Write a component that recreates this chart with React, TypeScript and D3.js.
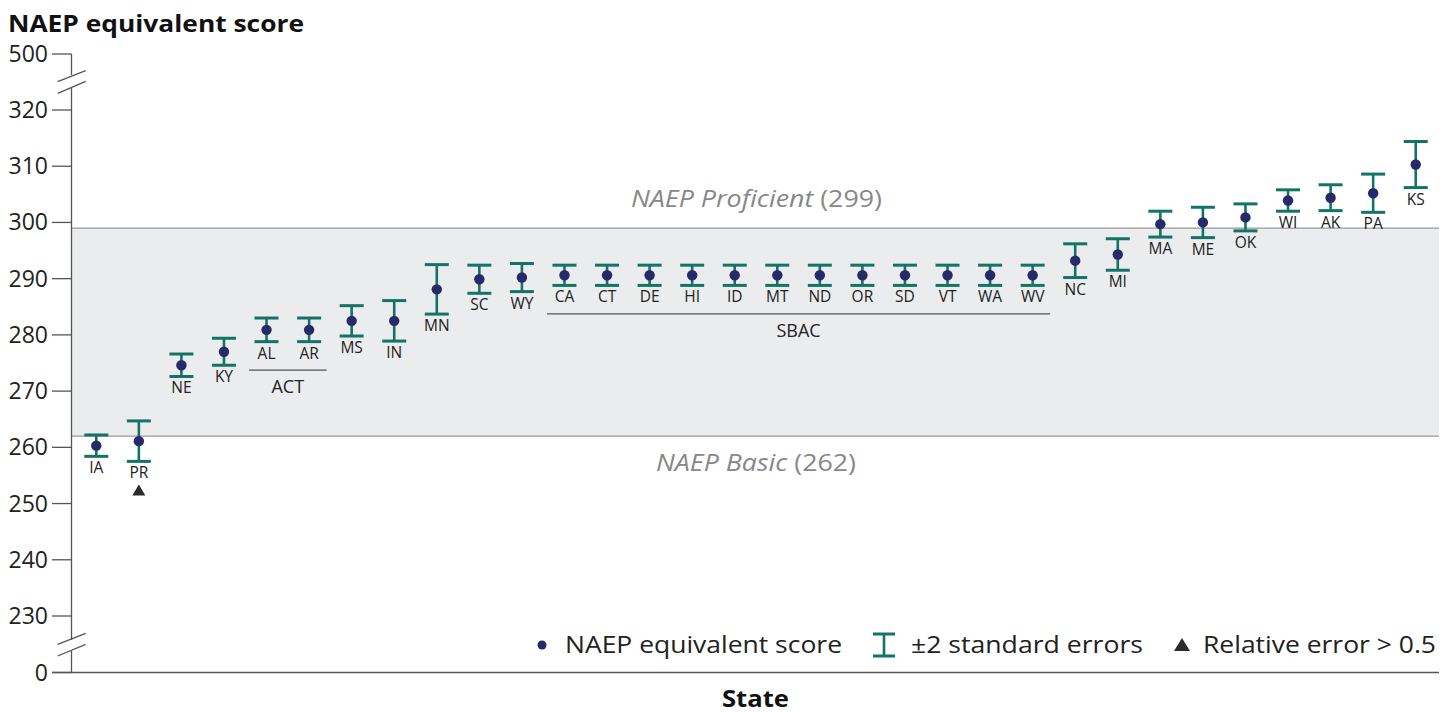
import React from "react";
import * as d3 from "d3";

const states = ["IA","PR","NE","KY","AL","AR","MS","IN","MN","SC","WY","CA","CT","DE","HI","ID","MT","ND","OR","SD","VT","WA","WV","NC","MI","MA","ME","OK","WI","AK","PA","KS"];
const scores = [260.3,261.1,274.6,277.0,280.9,280.9,282.5,282.5,288.1,289.9,290.2,290.6,290.6,290.6,290.6,290.6,290.6,290.6,290.6,290.6,290.6,290.6,290.6,293.2,294.3,299.7,300.0,300.9,303.9,304.4,305.2,310.3];
const twoSE = [1.9,3.6,2.0,2.4,2.1,2.1,2.7,3.6,4.4,2.5,2.5,1.8,1.8,1.8,1.8,1.8,1.8,1.8,1.8,1.8,1.8,1.8,1.8,3.0,2.8,2.3,2.7,2.4,1.9,2.3,3.4,4.1];
const flagged = ["PR"];
const groupLabels = ["ACT", "SBAC"];
const groupFrom = ["AL", "CA"];
const groupTo = ["AR", "WV"];
const yTicks = [0, 230, 240, 250, 260, 270, 280, 290, 300, 310, 320, 500];
const proficient = 299;
const basic = 262;

const FONT = "'Open Sans', 'Noto Sans', sans-serif";
const DOT = "#262a68";
const TEAL = "#137366";
const TEXT = "#222";

export default function App() {
  const W = 1454, H = 713;
  const axisX = 71.5;
  const plotRight = 1439;
  const x = d3.scaleBand<string>().domain(states).range([75, 1437]);
  const cx = (s: string) => (x(s) as number) + x.bandwidth() / 2;
  const y = d3.scaleLinear().domain([0, 230, 320, 500]).range([672.5, 616, 110, 54]);
  const capW = 24;

  const bottoms = states.map((s, i) => y(scores[i] - twoSE[i]));

  return (
    <svg width={W} height={H} style={{ position: "absolute", left: 0, top: 0, fontFamily: FONT }}>
      <rect x={0} y={0} width={W} height={H} fill="#fff" />
      {/* performance band */}
      <rect x={axisX} y={y(proficient)} width={plotRight - axisX} height={y(basic) - y(proficient)} fill="#ebeced" />
      <line x1={axisX} x2={plotRight} y1={y(proficient)} y2={y(proficient)} stroke="#999" strokeWidth={1.3} />
      <line x1={axisX} x2={plotRight} y1={y(basic)} y2={y(basic)} stroke="#999" strokeWidth={1.3} />
      <text x={631} y={y(proficient) - 21} fontSize={23} fill="#888" textLength={251} lengthAdjust="spacingAndGlyphs">
        <tspan fontStyle="italic">NAEP Proficient</tspan> (299)
      </text>
      <text x={656} y={y(basic) + 35} fontSize={23} fill="#888" textLength={200} lengthAdjust="spacingAndGlyphs">
        <tspan fontStyle="italic">NAEP Basic</tspan> (262)
      </text>

      {/* title */}
      <text x={8} y={31.5} fontSize={24} fontWeight="bold" fill="#111" textLength={296} lengthAdjust="spacingAndGlyphs">NAEP equivalent score</text>

      {/* y axis with breaks */}
      <line x1={axisX} x2={axisX} y1={y(500)} y2={75} stroke="#555" strokeWidth={1.3} />
      <line x1={axisX} x2={axisX} y1={87} y2={640} stroke="#555" strokeWidth={1.3} />
      <line x1={axisX} x2={axisX} y1={651} y2={y(0)} stroke="#555" strokeWidth={1.3} />
      <line x1={57.7} y1={81.7} x2={85.7} y2={70.7} stroke="#555" strokeWidth={1.3} />
      <line x1={57.7} y1={93.3} x2={85.7} y2={81.3} stroke="#555" strokeWidth={1.3} />
      <line x1={57.7} y1={644.3} x2={85.7} y2={633.3} stroke="#555" strokeWidth={1.3} />
      <line x1={57.7} y1={656} x2={85.7} y2={644.3} stroke="#555" strokeWidth={1.3} />
      {yTicks.map((t) => (
        <g key={t}>
          <line x1={52} x2={axisX} y1={y(t)} y2={y(t)} stroke="#555" strokeWidth={1.3} />
          <text x={48} y={y(t)} dy="0.35em" textAnchor="end" fontSize={23} fill="#222">{t}</text>
        </g>
      ))}

      {/* x axis */}
      <line x1={52} x2={plotRight} y1={y(0)} y2={y(0)} stroke="#555" strokeWidth={1.3} />
      <text x={722} y={707} fontSize={23} fontWeight="bold" fill="#111" textLength={67} lengthAdjust="spacingAndGlyphs">State</text>

      {/* error bars, dots, labels */}
      {states.map((s, i) => {
        const c = cx(s);
        const top = y(scores[i] + twoSE[i]);
        const bot = y(scores[i] - twoSE[i]);
        return (
          <g key={s}>
            <line x1={c} x2={c} y1={top} y2={bot} stroke={TEAL} strokeWidth={2.6} />
            <line x1={c - capW / 2} x2={c + capW / 2} y1={top} y2={top} stroke={TEAL} strokeWidth={3} />
            <line x1={c - capW / 2} x2={c + capW / 2} y1={bot} y2={bot} stroke={TEAL} strokeWidth={3} />
            <circle cx={c} cy={y(scores[i])} r={5.2} fill={DOT} />
            <text x={c} y={bot + 17} textAnchor="middle" fontSize={15.5} fill={TEXT}>{s}</text>
            {flagged.includes(s) && (
              <path d={`M${c - 6.5},${bot + 34} L${c + 6.5},${bot + 34} L${c},${bot + 23} Z`} fill="#2b2b2b" />
            )}
          </g>
        );
      })}

      {/* groups */}
      {groupLabels.map((g, gi) => {
        const i0 = states.indexOf(groupFrom[gi]);
        const i1 = states.indexOf(groupTo[gi]);
        const ly = (d3.max(bottoms.slice(i0, i1 + 1)) as number) + 28.5;
        const x0 = cx(groupFrom[gi]) - 17.5;
        const x1 = cx(groupTo[gi]) + 17.5;
        return (
          <g key={g}>
            <line x1={x0} x2={x1} y1={ly} y2={ly} stroke="#555" strokeWidth={1.3} />
            <text x={(x0 + x1) / 2} y={ly + 23} textAnchor="middle" fontSize={18} fill={TEXT}>{g}</text>
          </g>
        );
      })}

      {/* legend */}
      <g>
        <circle cx={542} cy={645} r={4.5} fill={DOT} />
        <text x={565} y={645} dy="0.35em" fontSize={24} fill={TEXT} textLength={277} lengthAdjust="spacingAndGlyphs">NAEP equivalent score</text>
        <line x1={884} x2={884} y1={634} y2={656} stroke={TEAL} strokeWidth={2.6} />
        <line x1={873} x2={895} y1={634} y2={634} stroke={TEAL} strokeWidth={3} />
        <line x1={873} x2={895} y1={656} y2={656} stroke={TEAL} strokeWidth={3} />
        <text x={911} y={645} dy="0.35em" fontSize={24} fill={TEXT} textLength={232} lengthAdjust="spacingAndGlyphs">±2 standard errors</text>
        <path d="M1174,651 L1190,651 L1182,638 Z" fill="#2b2b2b" />
        <text x={1203} y={645} dy="0.35em" fontSize={24} fill={TEXT} textLength={233} lengthAdjust="spacingAndGlyphs">Relative error &gt; 0.5</text>
      </g>
    </svg>
  );
}
